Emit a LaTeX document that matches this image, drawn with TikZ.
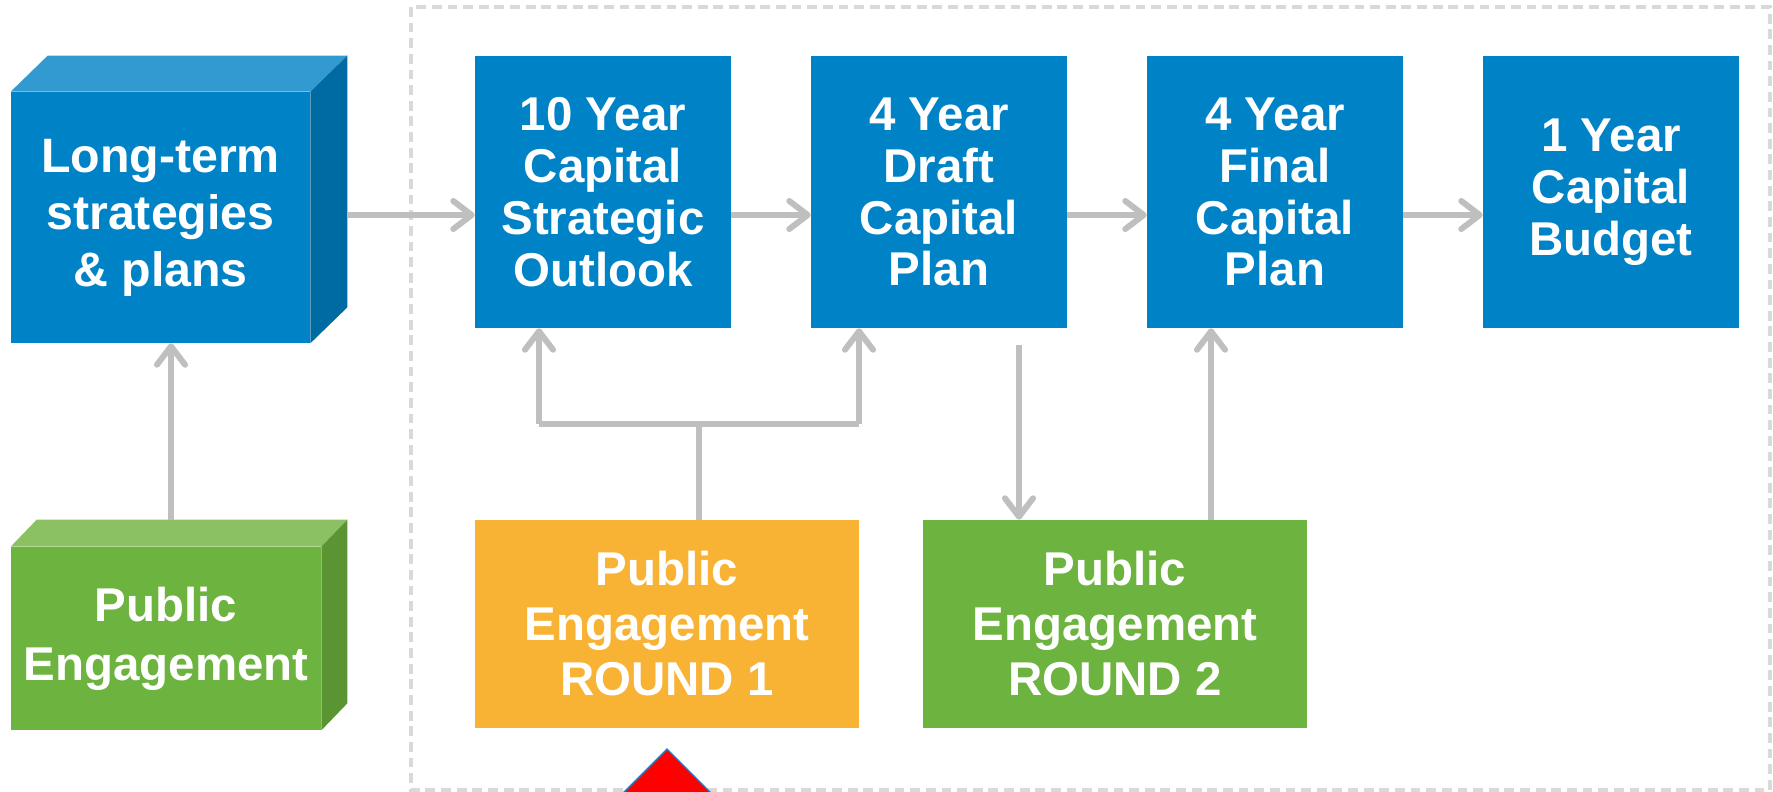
\documentclass[tikz,border=0pt]{standalone}
\usepackage{fontspec}
\setmainfont{Liberation Sans}
\usetikzlibrary{arrows.meta}

\definecolor{capblue}{HTML}{0083C6}
\definecolor{captop}{HTML}{3399D1}
\definecolor{capside}{HTML}{006AA3}
\definecolor{pegreen}{HTML}{6DB33F}
\definecolor{petop}{HTML}{8BC163}
\definecolor{peside}{HTML}{5A9433}
\definecolor{peorange}{HTML}{F8B334}
\definecolor{flowgray}{HTML}{BFBFBF}
\definecolor{framegray}{HTML}{D9D9D9}
\definecolor{tipblue}{HTML}{1F7FC8}

\begin{document}
\begin{tikzpicture}[x=0.02cm, y=-0.02cm,
    box/.style={fill=capblue, text=white, inner sep=0pt, align=center,
	font=\bfseries\fontsize{27}{29.5}\selectfont,
	minimum width=5.12cm, minimum height=5.44cm},
    pebox/.style={text=white, inner sep=0pt, align=center,
	font=\bfseries\fontsize{27}{31.3}\selectfont,
	minimum width=7.68cm, minimum height=4.16cm},
    flow/.style={draw=flowgray, line width=3.4pt,
	-{Straight Barb[round, length=10.5pt, width=16pt]}},
    link/.style={draw=flowgray, line width=3.4pt},
    dashframe/.style={draw=framegray, line width=1.8pt,
	dash pattern=on 5.6pt off 3.3pt}]
    \useasboundingbox (0,0) rectangle (1773,791);

    % dashed frame round the capital process
    \draw[dashframe] (411,7) rectangle (1770,790);

    % left column: strategies fed by engagement
    \node[box, minimum width=5.98cm, minimum height=5.02cm,
	font=\bfseries\fontsize{27.5}{32.5}\selectfont]
	(lt) at (160.5,217.5) {Long-term\\strategies\\\& plans};
    \fill[captop] (lt.north west) -- ++(37,-36)
	-- ([shift={(37,-36)}]lt.north east) -- (lt.north east) -- cycle;
    \fill[capside] (lt.north east) -- ++(37,-36)
	-- ([shift={(37,-36)}]lt.south east) -- (lt.south east) -- cycle;

    \node[pebox, fill=pegreen, minimum width=6.2cm, minimum height=3.66cm,
	font=\bfseries\fontsize{27}{33.5}\selectfont]
	(pe) at (166,638.5) {Public\\Engagement};
    \fill[petop] (pe.north west) -- ++(26,-27)
	-- ([shift={(26,-27)}]pe.north east) -- (pe.north east) -- cycle;
    \fill[peside] (pe.north east) -- ++(26,-27)
	-- ([shift={(26,-27)}]pe.south east) -- (pe.south east) -- cycle;

    % capital stages
    \node[box] (b1) at (603,192) {10 Year\\Capital\\Strategic\\Outlook};
    \node[box] (b2) at (939,192) {4 Year\\Draft\\Capital\\Plan};
    \node[box] (b3) at (1275,192) {4 Year\\Final\\Capital\\Plan};
    \node[box] (b4) at (1611,192) {1 Year\\Capital\\Budget};

    % engagement rounds
    \node[pebox, fill=peorange] (r1) at (667,624) {Public\\Engagement\\ROUND 1};
    \node[pebox, fill=pegreen] (r2) at (1115,624) {Public\\Engagement\\ROUND 2};

    % main flow
    \coordinate (row) at (0,215);
    \coordinate (ltback) at ([shift={(37,0)}]lt.east);
    \draw[flow] (ltback |- row) -- (b1.west |- row);
    \draw[flow] (b1.east |- row) -- (b2.west |- row);
    \draw[flow] (b2.east |- row) -- (b3.west |- row);
    \draw[flow] (b3.east |- row) -- (b4.west |- row);

    \coordinate (peup) at ([shift={(5,-27)}]pe.north);
    \draw[flow] (peup) -- (peup |- lt.south);

    % round 1 feeds the outlook and the draft plan
    \coordinate (fork) at (699,424);
    \coordinate (forkl) at (539,424);
    \coordinate (forkr) at (859,424);
    \draw[link] (r1.north -| fork) -- (fork);
    \draw[link] (forkl) -- (forkr);
    \draw[flow] (forkl) -- (forkl |- b1.south);
    \draw[flow] (forkr) -- (forkr |- b2.south);

    % round 2 between draft and final
    \draw[flow] ([shift={(80,17)}]b2.south) -- ([shift={(-96,0)}]r2.north);
    \draw[flow] ([shift={(96,0)}]r2.north) -- ([shift={(-64,0)}]b3.south);

    % red marker at the bottom edge
    \begin{scope}
	\clip (0,0) rectangle (1773,791);
	\filldraw[fill=red, draw=tipblue, line width=0.8pt]
	    (667,749) -- (587,829) -- (747,829) -- cycle;
    \end{scope}
\end{tikzpicture}
\end{document}
